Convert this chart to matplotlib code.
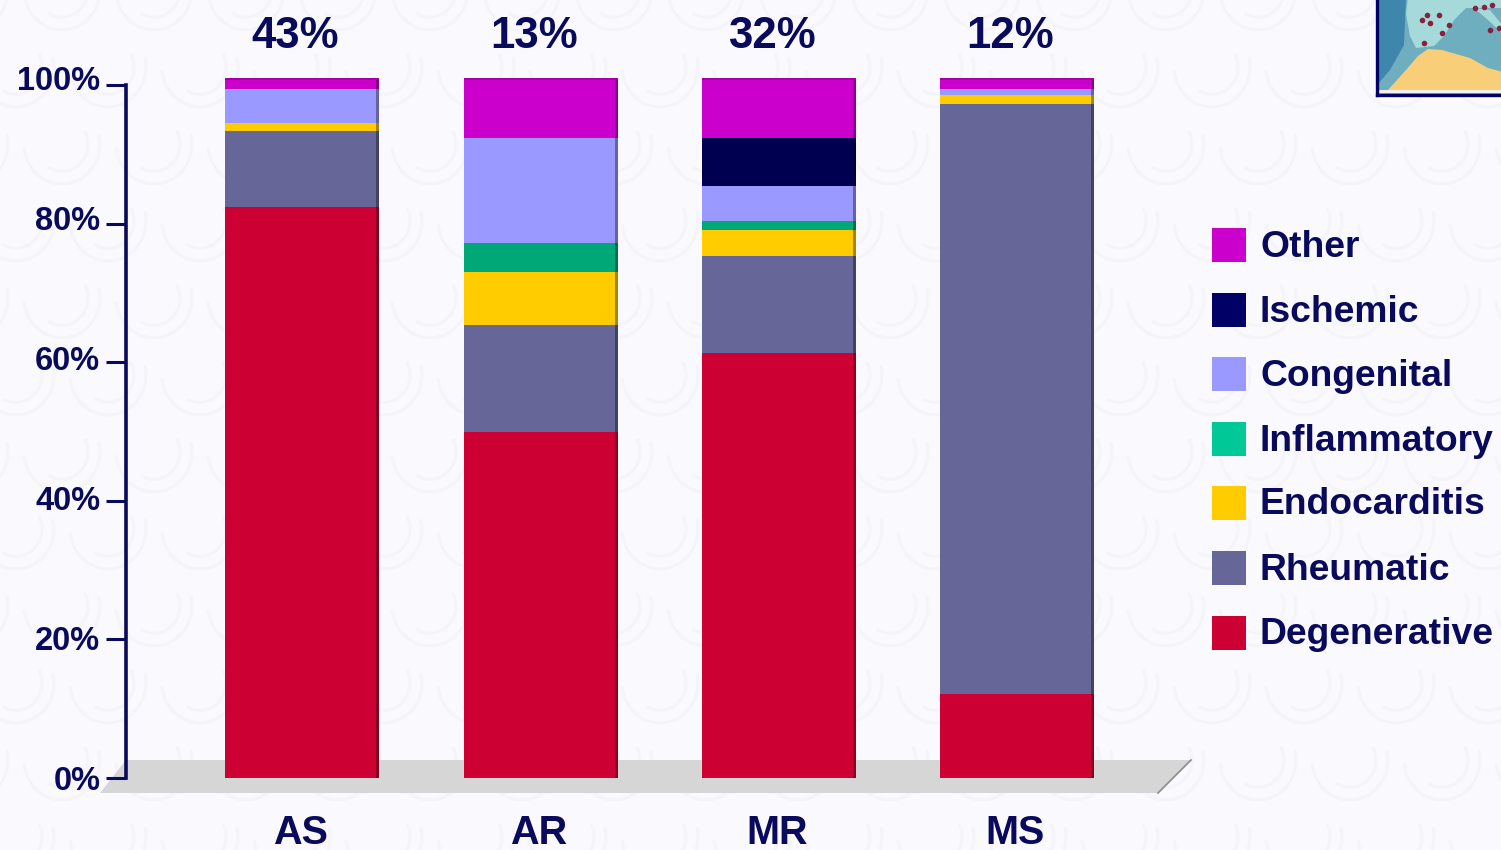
import matplotlib
matplotlib.use('Agg')
import matplotlib.pyplot as plt
from matplotlib.patches import Polygon, Rectangle, Arc
from matplotlib.colors import to_rgb
from matplotlib.transforms import ScaledTranslation
import numpy as np

W, H = 1501, 850
NAVY = '#0A0A5C'

categories = ['AS', 'AR', 'MR', 'MS']
share_labels = ['43%', '13%', '32%', '12%']
tick_labels = ['0%', '20%', '40%', '60%', '80%', '100%']
tick_values = [0, 20, 40, 60, 80, 100]

# bottom to top of each stack, same order as the categories
causes = ['Degenerative', 'Rheumatic', 'Endocarditis', 'Inflammatory', 'Congenital', 'Ischemic', 'Other']
degenerative = [81.6, 49.4, 60.7, 12.0]
rheumatic = [10.8, 15.3, 13.9, 84.3]
endocarditis = [1.2, 7.6, 3.7, 1.3]
inflammatory = [0.0, 4.1, 1.3, 0.0]
congenital = [4.8, 15.0, 5.0, 0.8]
ischemic = [0.0, 0.0, 6.8, 0.0]
other = [1.6, 8.6, 8.6, 1.6]
series = [degenerative, rheumatic, endocarditis, inflammatory, congenital, ischemic, other]
colors = ['#CC0033', '#666699', '#FFCC00', '#00A878', '#9999FF', '#000050', '#CC00CC']
legend_colors = ['#CC0033', '#666699', '#FFCC00', '#00C896', '#9999FF', '#000066', '#CC00CC']


def box(x0, y0, x1, y1):
    # pixel box (y from the top) to figure fractions
    return [x0 / W, 1 - y1 / H, (x1 - x0) / W, (y1 - y0) / H]


def darker(c, f=0.65):
    return tuple(v * f for v in to_rgb(c))


plt.rcParams['font.family'] = ['Liberation Sans', 'DejaVu Sans']
plt.rcParams['font.weight'] = 'bold'

fig = plt.figure(figsize=(W / 100, H / 100), dpi=100, facecolor='#FAFAFE')

# whole figure overlay in pixel units, for the wallpaper, floor and legend
bg = fig.add_axes([0, 0, 1, 1], zorder=0)
bg.set_xlim(0, W)
bg.set_ylim(H, 0)
bg.axis('off')

# faint swirl wallpaper
for row, cy in enumerate(np.arange(-10, H + 80, 77)):
    for cx in np.arange(-30 + (row % 2) * 46, W + 90, 92):
        for d, t1, t2 in ((76, -15, 175), (52, -30, 120)):
            bg.add_patch(Arc((cx, cy), d, d * 1.05, theta1=t1, theta2=t2,
                             color='#F4F4F9', lw=2.2))

# floor of the 3D chart
bg.add_patch(Polygon([(100, 793), (126, 760), (1191, 760), (1158, 793)], closed=True,
                     facecolor='#D6D6D6', edgecolor='none'))
bg.plot([1158, 1191], [793, 760], color='#8A8A8A', lw=1.2)

# bars: 100% of a stack is 700 px, x positions 238.3 px apart
ax = fig.add_axes(box(126, 78, 1190, 778), zorder=2)
ax.patch.set_alpha(0)
x = np.arange(len(categories))
ax.set_xlim((126 - 302.5) / 238.3, (1190 - 302.5) / 238.3)
ax.set_ylim(0, 100)
bottom = np.zeros(len(categories))
bar_w = 154 / 238.3
side_w = 3 / 238.3
for vals, c in zip(series, colors):
    vals = np.array(vals)
    ax.bar(x, vals, bar_w, bottom=bottom, color=c, linewidth=0)
    ax.bar(x + bar_w / 2 - side_w / 2, vals, side_w, bottom=bottom, color=darker(c), linewidth=0)
    bottom = bottom + vals
ax.bar(x, 0.3, bar_w, bottom=bottom - 0.3, color=darker(colors[-1], 0.8), linewidth=0)
for s in ax.spines.values():
    s.set_visible(False)
ax.set_xticks(x)
ax.set_xticklabels(categories, fontsize=28.5, color=NAVY, fontweight='bold')
ax.tick_params(axis='x', length=0, pad=26)
for lab in ax.get_xticklabels():
    lab.set_transform(lab.get_transform() + ScaledTranslation(-2 / 100, 0, fig.dpi_scale_trans))
# the labels follow the bars' scale, the tick marks below follow the wall's
ax.set_yticks(tick_values)
ax.set_yticklabels(tick_labels, fontsize=23.5, color=NAVY, fontweight='bold')
ax.tick_params(axis='y', length=0, pad=18.5)
for xi, lab in zip(x, share_labels):
    ax.annotate(lab, (xi, 100), xytext=(-7, 42), textcoords='offset pixels', ha='center', va='center',
                fontsize=31.5, color=NAVY, fontweight='bold', annotation_clip=False)

# value axis sits on the back wall, so it has a slightly shorter scale than the bars
ay = fig.add_axes(box(126, 85, 127, 778), zorder=3)
ay.patch.set_alpha(0)
ay.set_ylim(0, 100)
ay.set_xticks([])
ay.set_yticks(tick_values)
ay.set_yticklabels([])
ay.tick_params(axis='y', length=20 * 0.72, width=2.2, color=NAVY)
for k in ('top', 'right', 'bottom'):
    ay.spines[k].set_visible(False)
ay.spines['left'].set_color(NAVY)
ay.spines['left'].set_linewidth(2.6)

# legend, top entry first
legend_y = [245, 310, 374, 439, 503, 568, 633]
for name, c, y in zip(causes[::-1], legend_colors[::-1], legend_y):
    bg.add_patch(Rectangle((1212, y - 17), 34, 34, facecolor=c, edgecolor='none'))
    bg.text(1260, y + 2, name, fontsize=26.8, color=NAVY, fontweight='bold', va='center', ha='left')

# map thumbnail in the corner
mp = fig.add_axes(box(1377, -3, 1503, 95), zorder=4)
mp.set_xlim(-1, 125)
mp.set_ylim(95, -3)
mp.set_xticks([])
mp.set_yticks([])
mp.set_facecolor('#6FAEBE')
for s in mp.spines.values():
    s.set_color('#000066')
    s.set_linewidth(2.4)
mp.add_patch(Polygon([(-1, -3), (28, -3), (26, 45), (12, 70), (-1, 85)], closed=True,
                     facecolor='#3F86AC', edgecolor='none'))
# Iberia, France and Italy
mp.add_patch(Polygon([(30, -3), (125, -3), (125, 8), (88, 8), (76, 20), (66, 36), (56, 46), (38, 48),
                      (32, 36), (28, 14)], closed=True, facecolor='#A6DADA', edgecolor='none'))
mp.add_patch(Polygon([(96, 8), (112, 10), (125, 26), (125, 34), (110, 20)], closed=True,
                     facecolor='#A6DADA', edgecolor='none'))
# North Africa
mp.add_patch(Polygon([(10, 90), (28, 70), (40, 56), (50, 49), (64, 50), (92, 58), (110, 68), (125, 72),
                      (125, 90)], closed=True, facecolor='#F8CE78', edgecolor='none'))
mp.add_patch(Rectangle((-1, 90), 126, 3, facecolor='#F0F0F4', edgecolor='none'))
mp.plot([49, 61, 52, 44, 64, 46, 71, 97, 106, 114, 121, 112],
        [15, 15, 23, 20, 33, 43, 25, 8, 7, 5, 28, 30],
        ls='none', marker='o', ms=3, color='#8A2040')

fig.savefig('out.png', dpi=100, facecolor=fig.get_facecolor())
